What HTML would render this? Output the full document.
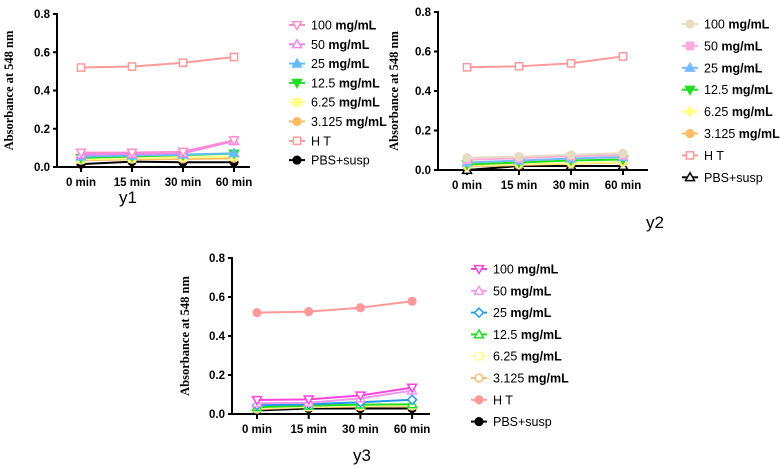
<!DOCTYPE html>
<html><head><meta charset="utf-8"><style>
body{margin:0;background:#fff;width:780px;height:469px;overflow:hidden}
svg{display:block}
</style></head><body>
<svg id="chart" width="780" height="469" xmlns="http://www.w3.org/2000/svg"></svg>
<script>
const categories = ["0 min","15 min","30 min","60 min"];
const yTicks = [0.0,0.2,0.4,0.6,0.8];
const seriesNames = ["100 mg/mL","50 mg/mL","25 mg/mL","12.5 mg/mL","6.25 mg/mL","3.125 mg/mL","H T","PBS+susp"];
// y1 values
const y1_100 = [0.075,0.075,0.08,0.14];
const y1_50 = [0.065,0.068,0.072,0.135];
const y1_25 = [0.055,0.06,0.065,0.072];
const y1_12 = [0.048,0.055,0.062,0.07];
const y1_6 = [0.04,0.045,0.05,0.055];
const y1_3 = [0.035,0.04,0.042,0.045];
const y1_ht = [0.52,0.525,0.545,0.575];
const y1_pbs = [0.015,0.028,0.025,0.025];
// y2 values
const y2_100 = [0.062,0.068,0.077,0.085];
const y2_50 = [0.052,0.06,0.07,0.075];
const y2_25 = [0.038,0.048,0.058,0.065];
const y2_12 = [0.028,0.038,0.048,0.053];
const y2_6 = [0.022,0.03,0.035,0.04];
const y2_3 = [0.018,0.025,0.032,0.038];
const y2_ht = [0.52,0.525,0.54,0.575];
const y2_pbs = [0.0,0.02,0.02,0.02];
// y3 values
const y3_100 = [0.072,0.075,0.095,0.135];
const y3_50 = [0.055,0.058,0.08,0.12];
const y3_25 = [0.045,0.05,0.06,0.073];
const y3_12 = [0.035,0.042,0.048,0.05];
const y3_6 = [0.03,0.038,0.042,0.045];
const y3_3 = [0.025,0.035,0.038,0.04];
const y3_ht = [0.52,0.525,0.545,0.578];
const y3_pbs = [0.018,0.028,0.028,0.028];

const NS="http://www.w3.org/2000/svg";
const svg=document.getElementById('chart');
function mk(tag,attrs,parent){const e=document.createElementNS(NS,tag);for(const k in attrs)e.setAttribute(k,attrs[k]);(parent||svg).appendChild(e);return e;}

function marker(g,type,x,y,color,fill,s){
  s=s||4.5;let e;
  const f=fill?color:'#fff';
  if(type==='circle')e=mk('circle',{cx:x,cy:y,r:s*0.85,fill:f,stroke:color,'stroke-width':1.5},g);
  else if(type==='square')e=mk('rect',{x:x-s*0.8,y:y-s*0.8,width:s*1.6,height:s*1.6,fill:f,stroke:color,'stroke-width':1.5},g);
  else if(type==='tri')e=mk('polygon',{points:`${x},${y-s} ${x-s},${y+s*0.75} ${x+s},${y+s*0.75}`,fill:f,stroke:color,'stroke-width':1.5},g);
  else if(type==='itri')e=mk('polygon',{points:`${x},${y+s} ${x-s},${y-s*0.75} ${x+s},${y-s*0.75}`,fill:f,stroke:color,'stroke-width':1.5},g);
  else e=mk('polygon',{points:`${x},${y-s} ${x+s},${y} ${x},${y+s} ${x-s},${y}`,fill:f,stroke:color,'stroke-width':1.5},g);
  return e;
}

function panel(cfg){
  const g=mk('g',{});
  
  
  const yScale=v=>cfg.y0+(cfg.y8-cfg.y0)*(v/0.8);
  const xScale=i=>cfg.x0+i*cfg.dx;
  const ax=mk('g',{},g);
  
  
  mk('line',{x1:cfg.ax,y1:cfg.y8-1,x2:cfg.ax,y2:cfg.y0,stroke:'#000','stroke-width':2},ax);
  mk('line',{x1:cfg.ax,y1:cfg.y0,x2:cfg.axEnd,y2:cfg.y0,stroke:'#000','stroke-width':2},ax);
  yTicks.forEach(t=>{
    const y=yScale(t);
    mk('line',{x1:cfg.ax-4,y1:y,x2:cfg.ax,y2:y,stroke:'#000','stroke-width':2},ax);
    const tx=mk('text',{x:cfg.ax-7,y:y+4,'text-anchor':'end','font-family':'Liberation Sans, sans-serif','font-size':11.5,'font-weight':'bold'},ax);
    tx.textContent=t.toFixed(1);
    
    
  });
  categories.forEach((c,i)=>{
    const x=xScale(i);
    mk('line',{x1:x,y1:cfg.y0,x2:x,y2:cfg.y0+5,stroke:'#000','stroke-width':2},ax);
    const tx=mk('text',{x:x,y:cfg.y0+19,'text-anchor':'middle','font-family':'Liberation Sans, sans-serif','font-size':11.5,'font-weight':'bold'},ax);
    tx.textContent=c;
    
    
  });
  const yt=mk('text',{x:0,y:0,transform:`translate(${cfg.titleX},${(cfg.y0+cfg.y8)/2}) rotate(-90)`,'text-anchor':'middle','font-family':'Liberation Serif, serif','font-size':12.5,'font-weight':'bold'},g);
  yt.textContent='Absorbance at 548 nm';
  
  
  for(let s=cfg.series.length-1;s>=0;s--){
    const sr=cfg.series[s];
    const sg=mk('g',{},g);
    
    
    const pts=sr.data.map((v,i)=>xScale(i)+','+yScale(v)).join(' ');
    mk('polyline',{points:pts,fill:'none',stroke:sr.color,'stroke-width':2},sg);
    sr.data.forEach((v,i)=>{
      const m=marker(sg,sr.type,xScale(i),yScale(v),sr.color,sr.fill);
      
      
    });
  }
  const lg=mk('g',{},g);
  
  
  cfg.series.forEach((sr,s)=>{
    const y=cfg.legY+s*cfg.legDy;
    const eg=mk('g',{},lg);
    
    
    mk('line',{x1:cfg.legX,y1:y,x2:cfg.legX+16,y2:y,stroke:sr.color,'stroke-width':2},eg);
    marker(eg,sr.type,cfg.legX+8,y,sr.color,sr.fill);
    const tx=mk('text',{x:cfg.legX+22,y:y+4.5,'font-family':'Liberation Sans, sans-serif','font-size':12.5},eg);
    const parts=seriesNames[s].split(' ');
    if(parts.length===2&&parts[1]==='mg/mL'){
      tx.textContent=parts[0]+' ';
      const b=mk('tspan',{'font-weight':'bold'},tx);b.textContent='mg/mL';
    } else tx.textContent=seriesNames[s];
  });
  const lab=mk('text',{x:cfg.labX,y:cfg.labY,'text-anchor':'middle','font-family':'Liberation Sans, sans-serif','font-size':17},g);
  lab.textContent=cfg.id;
  
  
}

panel({id:'y1',ax:57,axEnd:250,y0:167,y8:14,x0:81,dx:51,titleX:13,legX:289,legY:25,legDy:19.3,labX:128,labY:203,
 series:[
  {data:y1_100,color:'#ff8ccc',type:'itri',fill:false},
  {data:y1_50,color:'#ee88ee',type:'tri',fill:false},
  {data:y1_25,color:'#66bbff',type:'tri',fill:true},
  {data:y1_12,color:'#22dd22',type:'itri',fill:true},
  {data:y1_6,color:'#ffff88',type:'square',fill:true},
  {data:y1_3,color:'#ffbb66',type:'circle',fill:true},
  {data:y1_ht,color:'#ff9999',type:'square',fill:false},
  {data:y1_pbs,color:'#000000',type:'circle',fill:true}]});
panel({id:'y2',ax:438,axEnd:648,y0:170,y8:12,x0:467,dx:52,titleX:398,legX:682,legY:24,legDy:21.9,labX:655,labY:228,
 series:[
  {data:y2_100,color:'#e6dcc2',type:'circle',fill:true},
  {data:y2_50,color:'#ffaadd',type:'square',fill:true},
  {data:y2_25,color:'#77bbff',type:'tri',fill:true},
  {data:y2_12,color:'#22dd22',type:'itri',fill:true},
  {data:y2_6,color:'#ffff88',type:'diamond',fill:true},
  {data:y2_3,color:'#ffbb66',type:'circle',fill:true},
  {data:y2_ht,color:'#ff9999',type:'square',fill:false},
  {data:y2_pbs,color:'#000000',type:'tri',fill:false}]});
panel({id:'y3',ax:232,axEnd:430,y0:414,y8:258,x0:257,dx:51.7,titleX:189,legX:471,legY:269,legDy:21.8,labX:362,labY:461,
 series:[
  {data:y3_100,color:'#ff44dd',type:'itri',fill:false},
  {data:y3_50,color:'#ee99ee',type:'tri',fill:false},
  {data:y3_25,color:'#2299ee',type:'diamond',fill:false},
  {data:y3_12,color:'#22dd22',type:'tri',fill:false},
  {data:y3_6,color:'#ffff99',type:'square',fill:false},
  {data:y3_3,color:'#ffbb77',type:'circle',fill:false},
  {data:y3_ht,color:'#ff9999',type:'circle',fill:true},
  {data:y3_pbs,color:'#000000',type:'circle',fill:true}]});
</script>
</body></html>
